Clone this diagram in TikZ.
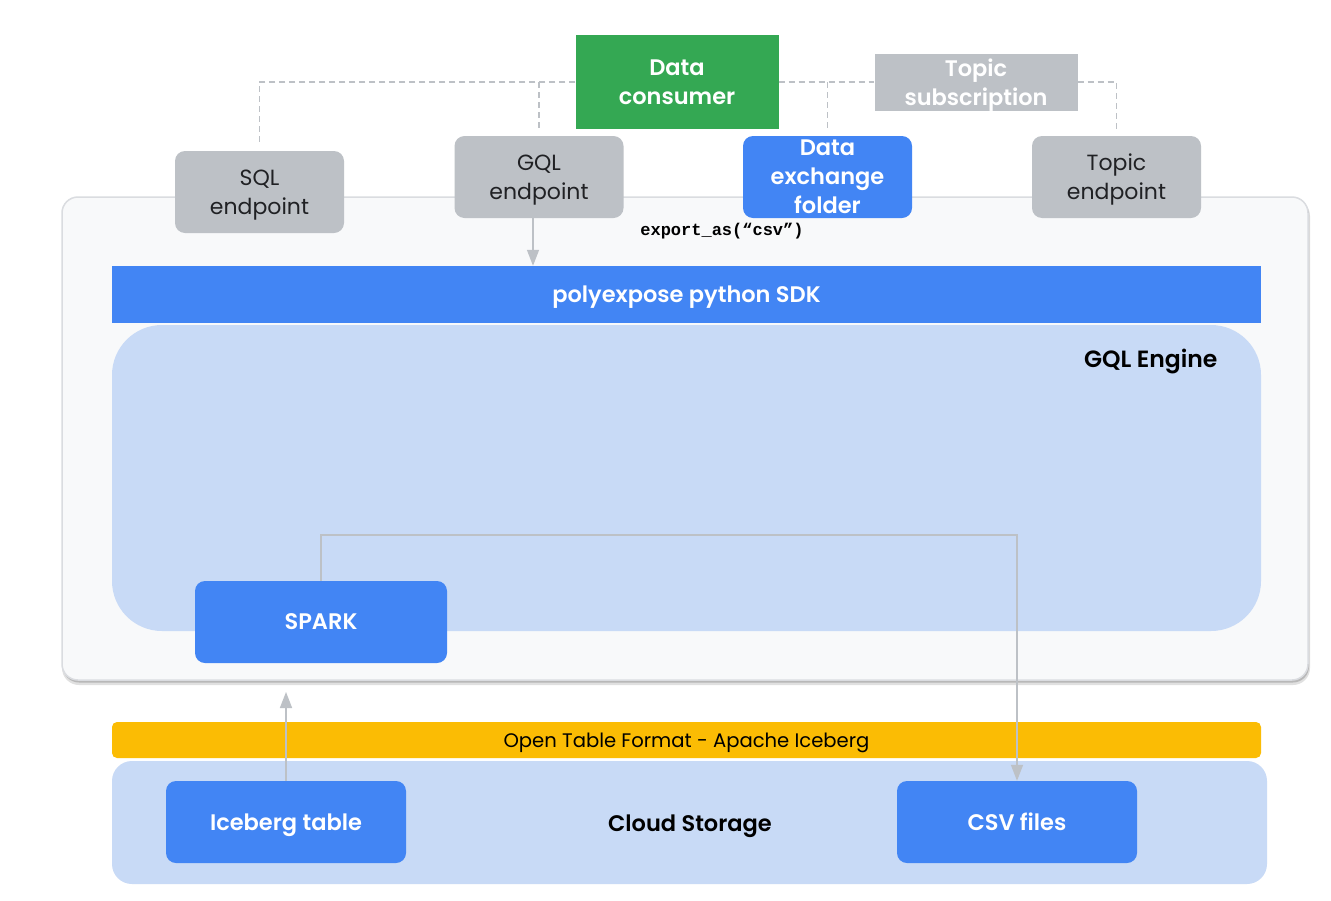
\documentclass[tikz,border=0pt]{standalone}
\usepackage{fontspec}
\setmainfont{Poppins}[BoldFont={Poppins SemiBold}]
\newfontfamily\codefont{Liberation Mono}
\usetikzlibrary{arrows.meta}
\definecolor{gblue}{HTML}{4285F4}
\definecolor{ggreen}{HTML}{34A853}
\definecolor{ggray}{HTML}{BDC1C6}
\definecolor{lblue}{HTML}{C8DAF6}
\definecolor{gyellow}{HTML}{FBBC04}
\definecolor{bgpanel}{HTML}{F8F9FA}
\definecolor{panelborder}{HTML}{DADCE0}
\definecolor{txtdark}{HTML}{202124}
\definecolor{linegray}{HTML}{BDC1C6}
\tikzset{
  blk/.style={rounded corners=10pt, inner sep=0pt, align=center, text depth=0pt},
  fnt/.style={font=\fontsize{22}{29}\selectfont},
  bfnt/.style={font=\fontsize{22.5}{29}\selectfont\bfseries},
  graybox/.style={blk, fill=ggray, text=txtdark, fnt, minimum width=169pt, minimum height=82pt},
  bluebox/.style={blk, fill=gblue, text=white, bfnt},
  dsh/.style={draw=linegray, line width=1.5pt, dash pattern=on 6pt off 4pt},
  conn/.style={draw=linegray, line width=1.5pt, -{Triangle[width=12pt,length=16pt]}},
}
\begin{document}
\begin{tikzpicture}[x=1pt,y=-1pt]
\useasboundingbox[fill=white] (0,0) rectangle (1331,900);
% outer container with shadow
\fill[black!12, rounded corners=17pt] (62,199) rectangle (1310,685);
\fill[black!28, rounded corners=16pt] (63,199) rectangle (1309,682.5);
\draw[fill=bgpanel, draw=panelborder, line width=1.5pt, rounded corners=16pt] (62,197) rectangle (1308,680);
\node[blk, rounded corners=0pt, fill=gblue, text=white, bfnt, minimum width=1149pt, minimum height=57pt] (sdk) at (686.5,294.5) {polyexpose python SDK};
\node[fill=lblue, rounded corners=50pt, minimum width=1149pt, minimum height=306pt, inner sep=0pt] (engine) at (686.5,478) {};
\node[anchor=east, font=\fontsize{23.5}{29}\selectfont\bfseries, text=black, text depth=0pt] (enginelbl) at (1221,358) {GQL Engine};
\node[bluebox, minimum width=252pt, minimum height=82pt] (spark) at (321,622) {SPARK};
% storage
\node[blk, fill=gyellow, rounded corners=5pt, minimum width=1149pt, minimum height=36pt, text=black, font=\fontsize{19.6}{22}\selectfont] (otf) at (686.5,740) {Open Table Format - Apache Iceberg};
\node[fill=lblue, rounded corners=20pt, minimum width=1155pt, minimum height=123pt, inner sep=0pt] (cloud) at (689.5,822.5) {};
\node[bfnt, text=black, inner sep=0pt, text depth=0pt] (cloudlbl) at (690,823) {Cloud Storage};
\node[bluebox, minimum width=240pt, minimum height=82pt] (ice) at (286,822) {Iceberg table};
\node[bluebox, minimum width=240pt, minimum height=82pt] (csv) at (1017,822) {CSV files};
% top
\node[blk, rounded corners=0pt, fill=ggreen, text=white, bfnt, minimum width=203pt, minimum height=94pt] (cons) at (677,82) {Data\\consumer};
\node[blk, rounded corners=0pt, fill=ggray, text=white, bfnt, minimum width=203pt, minimum height=57pt] (topsub) at (976,82) {Topic\\subscription};
\node[graybox] (sql) at (259.5,192) {SQL\\endpoint};
\node[graybox] (gql) at (539,177) {GQL\\endpoint};
\node[bluebox, minimum width=169pt, minimum height=82pt] (dex) at (827.5,177) {Data\\exchange\\folder};
\node[graybox] (topep) at (1116.5,177) {Topic\\endpoint};
\node[font=\codefont\bfseries\fontsize{17}{20}\selectfont, text=black] (exp) at (722,231) {export\_as(“csv”)};
% dashed links
\draw[dsh] (cons.west) -| ([yshift=6pt]sql.north);
\draw[dsh] (gql.north |- cons.west) -- ([yshift=6pt]gql.north);
\draw[dsh] (cons.east) -- (topsub.west);
\draw[dsh] (dex.north |- cons.east) -- ([yshift=6pt]dex.north);
\draw[dsh] (topsub.east) -| ([yshift=5pt]topep.north);
% arrows
\draw[conn] ([xshift=-6pt]gql.south) -- ([xshift=-6pt]gql.south |- sdk.north);
\coordinate (turn) at (321,535);
\draw[conn] (spark.north) -- (turn) -| (csv.north);
\coordinate (iceup) at (286,692);
\draw[conn] (ice.north) -- (iceup);
\end{tikzpicture}
\end{document}
